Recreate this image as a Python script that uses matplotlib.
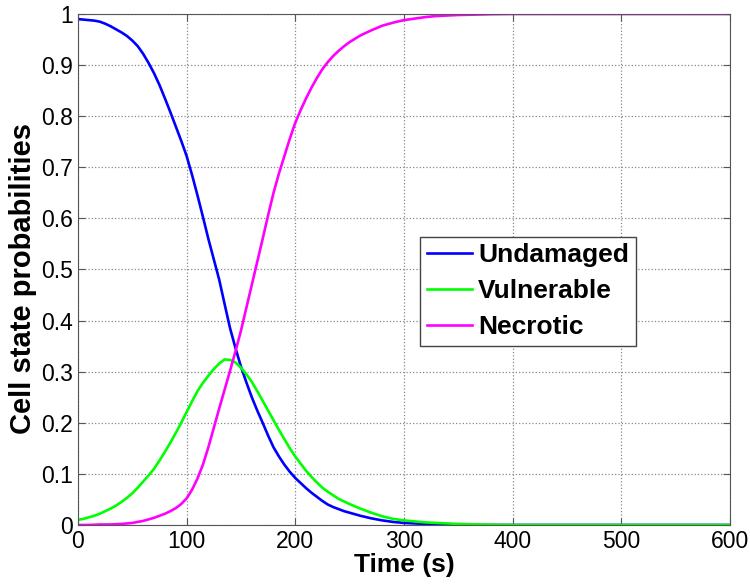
import matplotlib
matplotlib.use('Agg')
import matplotlib.pyplot as plt
from matplotlib.ticker import FuncFormatter

plt.rcParams['font.family'] = ['Liberation Sans', 'DejaVu Sans']

# time (s)
t = list(range(0, 251, 5)) + list(range(260, 401, 10)) + [500, 600]

undamaged = [0.990, 0.989, 0.988, 0.987, 0.985, 0.981, 0.976, 0.970, 0.964, 0.957,
             0.948, 0.937, 0.922, 0.904, 0.884, 0.861, 0.835, 0.808, 0.780, 0.752,
             0.722, 0.685, 0.645, 0.603, 0.560, 0.520, 0.480, 0.432, 0.385, 0.346,
             0.310, 0.279, 0.250, 0.224, 0.200, 0.175, 0.152, 0.134, 0.118, 0.104,
             0.092, 0.082, 0.072, 0.063, 0.055, 0.047, 0.040, 0.035, 0.031, 0.027,
             0.024,
             0.018, 0.013, 0.009, 0.006, 0.004, 0.003, 0.002, 0.001, 0.0005, 0.0,
             0.0, 0.0, 0.0, 0.0, 0.0,
             0.0, 0.0]

vulnerable = [0.010, 0.012, 0.015, 0.018, 0.022, 0.027, 0.032, 0.038, 0.045, 0.053,
              0.062, 0.073, 0.085, 0.097, 0.110, 0.126, 0.143, 0.161, 0.180, 0.200,
              0.221, 0.242, 0.262, 0.278, 0.292, 0.305, 0.316, 0.324, 0.323, 0.318,
              0.308, 0.295, 0.280, 0.262, 0.243, 0.224, 0.205, 0.186, 0.168, 0.150,
              0.134, 0.120, 0.106, 0.094, 0.083, 0.073, 0.065, 0.058, 0.051, 0.046,
              0.041,
              0.032, 0.024, 0.017, 0.012, 0.009, 0.007, 0.005, 0.004, 0.003, 0.002,
              0.0015, 0.001, 0.0005, 0.0002, 0.0,
              0.0, 0.0]

necrotic = [0.0, 0.0, 0.0, 0.0005, 0.001, 0.001, 0.001, 0.0015, 0.002, 0.003,
            0.004, 0.006, 0.008, 0.011, 0.014, 0.018, 0.022, 0.027, 0.033, 0.041,
            0.052, 0.069, 0.091, 0.118, 0.152, 0.190, 0.228, 0.265, 0.302, 0.340,
            0.380, 0.425, 0.470, 0.515, 0.560, 0.606, 0.650, 0.688, 0.722, 0.756,
            0.787, 0.812, 0.835, 0.856, 0.875, 0.892, 0.906, 0.918, 0.928, 0.937,
            0.945,
            0.958, 0.968, 0.977, 0.983, 0.988, 0.991, 0.994, 0.996, 0.997, 0.998,
            0.9985, 0.999, 0.9995, 0.9998, 1.0,
            1.0, 1.0]

fig = plt.figure(figsize=(7.5, 5.85), dpi=100)
ax = fig.add_axes([0.104, 0.1026, 0.869, 0.8735])

ax.plot(t, undamaged, color='#0000ff', lw=1.9, label='Undamaged')
ax.plot(t, vulnerable, color='#00ff00', lw=1.9, label='Vulnerable')
ax.plot(t, necrotic, color='#ff00ff', lw=1.9, label='Necrotic')

ax.set_xlim(0, 600)
ax.set_ylim(0, 1)
ax.set_xticks(range(0, 601, 100))
ax.set_yticks([i / 10 for i in range(11)])
ax.yaxis.set_major_formatter(FuncFormatter(lambda v, p: '%g' % round(v, 1)))
ax.tick_params(direction='in', top=True, right=True, labelsize=16.5,
               color='#555555', length=5)
for s in ax.spines.values():
    s.set_color('#555555')
ax.grid(True, linestyle=':', color='#888888', linewidth=0.9)

ax.set_xlabel('Time (s)', fontsize=19, fontweight='bold', labelpad=0)
ax.set_ylabel('Cell state probabilities', fontsize=21, fontweight='bold')
ax.yaxis.set_label_coords(-0.063, 0.483)

leg = ax.legend(loc='upper left', bbox_to_anchor=(0.525, 0.564), borderaxespad=0,
                fancybox=False, framealpha=1, edgecolor='#444444',
                prop={'weight': 'bold', 'size': 19}, handlelength=1.7,
                labelspacing=0.45, handletextpad=0.25, borderpad=0.25)

fig.savefig('out.png', dpi=100)
